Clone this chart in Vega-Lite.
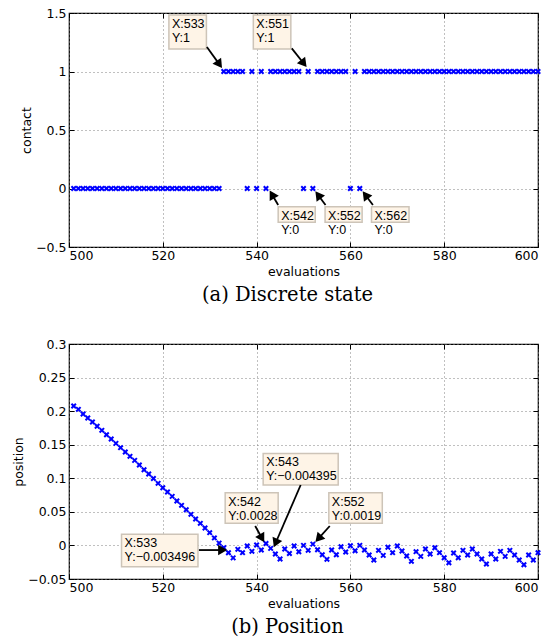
{
  "$schema": "https://vega.github.io/schema/vega-lite/v6.json",
  "background": "white",
  "padding": {"left": 12, "top": 6, "right": 5, "bottom": 5},
  "spacing": 31,
  "config": {
    "view": {"stroke": "black", "strokeWidth": 1.2},
    "axis": {
      "labelFont": "DejaVu Sans", "labelFontSize": 12.5, "labelColor": "black",
      "titleFont": "DejaVu Sans", "titleFontSize": 12.5, "titleFontWeight": "normal", "titleColor": "black",
      "tickColor": "black", "tickSize": -5, "tickWidth": 1, "domain": false,
      "gridColor": "#808080", "gridDash": [1, 3], "gridOpacity": 1, "gridWidth": 1
    },
    "axisX": {"labelPadding": 7, "titlePadding": 4},
    "axisY": {"labelPadding": 8, "titlePadding": 2},
    "title": {"font": "DejaVu Serif", "fontSize": 19.5, "fontWeight": "normal", "color": "black"}
  },
  "datasets": {
    "contact": [
      {"e":501,"c":0},{"e":502,"c":0},{"e":503,"c":0},{"e":504,"c":0},{"e":505,"c":0},{"e":506,"c":0},{"e":507,"c":0},{"e":508,"c":0},{"e":509,"c":0},{"e":510,"c":0},
      {"e":511,"c":0},{"e":512,"c":0},{"e":513,"c":0},{"e":514,"c":0},{"e":515,"c":0},{"e":516,"c":0},{"e":517,"c":0},{"e":518,"c":0},{"e":519,"c":0},{"e":520,"c":0},
      {"e":521,"c":0},{"e":522,"c":0},{"e":523,"c":0},{"e":524,"c":0},{"e":525,"c":0},{"e":526,"c":0},{"e":527,"c":0},{"e":528,"c":0},{"e":529,"c":0},{"e":530,"c":0},
      {"e":531,"c":0},{"e":532,"c":0},{"e":533,"c":1},{"e":534,"c":1},{"e":535,"c":1},{"e":536,"c":1},{"e":537,"c":1},{"e":538,"c":0},{"e":539,"c":1},{"e":540,"c":0},
      {"e":541,"c":1},{"e":542,"c":0},{"e":543,"c":1},{"e":544,"c":1},{"e":545,"c":1},{"e":546,"c":1},{"e":547,"c":1},{"e":548,"c":1},{"e":549,"c":1},{"e":550,"c":0},
      {"e":551,"c":1},{"e":552,"c":0},{"e":553,"c":1},{"e":554,"c":1},{"e":555,"c":1},{"e":556,"c":1},{"e":557,"c":1},{"e":558,"c":1},{"e":559,"c":1},{"e":560,"c":0},
      {"e":561,"c":1},{"e":562,"c":0},{"e":563,"c":1},{"e":564,"c":1},{"e":565,"c":1},{"e":566,"c":1},{"e":567,"c":1},{"e":568,"c":1},{"e":569,"c":1},{"e":570,"c":1},
      {"e":571,"c":1},{"e":572,"c":1},{"e":573,"c":1},{"e":574,"c":1},{"e":575,"c":1},{"e":576,"c":1},{"e":577,"c":1},{"e":578,"c":1},{"e":579,"c":1},{"e":580,"c":1},
      {"e":581,"c":1},{"e":582,"c":1},{"e":583,"c":1},{"e":584,"c":1},{"e":585,"c":1},{"e":586,"c":1},{"e":587,"c":1},{"e":588,"c":1},{"e":589,"c":1},{"e":590,"c":1},
      {"e":591,"c":1},{"e":592,"c":1},{"e":593,"c":1},{"e":594,"c":1},{"e":595,"c":1},{"e":596,"c":1},{"e":597,"c":1},{"e":598,"c":1},{"e":599,"c":1},{"e":600,"c":1}
    ],
    "position": [
      {"e":501,"p":0.2076},{"e":502,"p":0.2027},{"e":503,"p":0.1957},{"e":504,"p":0.1898},{"e":505,"p":0.1838},{"e":506,"p":0.1774},{"e":507,"p":0.1714},{"e":508,"p":0.1649},{"e":509,"p":0.1585},{"e":510,"p":0.1520},
      {"e":511,"p":0.1456},{"e":512,"p":0.1391},{"e":513,"p":0.1327},{"e":514,"p":0.1267},{"e":515,"p":0.1197},{"e":516,"p":0.1128},{"e":517,"p":0.1063},{"e":518,"p":0.0997},{"e":519,"p":0.0925},{"e":520,"p":0.0860},
      {"e":521,"p":0.0795},{"e":522,"p":0.0731},{"e":523,"p":0.0661},{"e":524,"p":0.0597},{"e":525,"p":0.0532},{"e":526,"p":0.0463},{"e":527,"p":0.0393},{"e":528,"p":0.0329},{"e":529,"p":0.0259},{"e":530,"p":0.0190},
      {"e":531,"p":0.0112},{"e":532,"p":0.0035},{"e":533,"p":-0.0035},{"e":534,"p":-0.0110},{"e":535,"p":-0.0185},{"e":536,"p":-0.0058},{"e":537,"p":-0.0108},{"e":538,"p":-0.0009},{"e":539,"p":-0.0088},{"e":540,"p":0.0006},
      {"e":541,"p":-0.0069},{"e":542,"p":0.0028},{"e":543,"p":-0.0044},{"e":544,"p":-0.0128},{"e":545,"p":-0.0202},{"e":546,"p":-0.0054},{"e":547,"p":-0.0120},{"e":548,"p":-0.0009},{"e":549,"p":-0.0094},{"e":550,"p":0.0001},
      {"e":551,"p":-0.0073},{"e":552,"p":0.0019},{"e":553,"p":-0.0064},{"e":554,"p":-0.0138},{"e":555,"p":-0.0207},{"e":556,"p":-0.0069},{"e":557,"p":-0.0138},{"e":558,"p":-0.0019},{"e":559,"p":-0.0098},{"e":560,"p":-0.0004},
      {"e":561,"p":-0.0079},{"e":562,"p":0.0001},{"e":563,"p":-0.0069},{"e":564,"p":-0.0143},{"e":565,"p":-0.0217},{"e":566,"p":-0.0073},{"e":567,"p":-0.0148},{"e":568,"p":-0.0028},{"e":569,"p":-0.0108},{"e":570,"p":-0.0009},
      {"e":571,"p":-0.0083},{"e":572,"p":-0.0158},{"e":573,"p":-0.0237},{"e":574,"p":-0.0093},{"e":575,"p":-0.0163},{"e":576,"p":-0.0054},{"e":577,"p":-0.0128},{"e":578,"p":-0.0034},{"e":579,"p":-0.0108},{"e":580,"p":-0.0183},
      {"e":581,"p":-0.0257},{"e":582,"p":-0.0113},{"e":583,"p":-0.0183},{"e":584,"p":-0.0073},{"e":585,"p":-0.0143},{"e":586,"p":-0.0054},{"e":587,"p":-0.0128},{"e":588,"p":-0.0202},{"e":589,"p":-0.0277},{"e":590,"p":-0.0128},
      {"e":591,"p":-0.0202},{"e":592,"p":-0.0088},{"e":593,"p":-0.0163},{"e":594,"p":-0.0073},{"e":595,"p":-0.0143},{"e":596,"p":-0.0217},{"e":597,"p":-0.0287},{"e":598,"p":-0.0143},{"e":599,"p":-0.0217},{"e":600,"p":-0.0108}
    ],
    "tipsA": [
      {"label":"X:533\nY:1","x1":521.3,"x2":529.3,"y1":1.483,"y2":1.192},
      {"label":"X:551\nY:1","x1":539.3,"x2":547.3,"y1":1.483,"y2":1.192},
      {"label":"X:542\nY:0","x1":544.6,"x2":552.5,"y1":-0.156,"y2":-0.289},
      {"label":"X:552\nY:0","x1":554.6,"x2":562.5,"y1":-0.156,"y2":-0.289},
      {"label":"X:562\nY:0","x1":564.5,"x2":572.5,"y1":-0.156,"y2":-0.289}
    ],
    "arrowsA": [
      {"tx":529.4,"ty":1.209,"hx":532.07,"hy":1.061,"angle":145},
      {"tx":547.5,"ty":1.198,"hx":550.06,"hy":1.068,"angle":142},
      {"tx":544.6,"ty":-0.141,"hx":543.28,"hy":-0.051,"angle":330},
      {"tx":554.7,"ty":-0.141,"hx":553.11,"hy":-0.055,"angle":323},
      {"tx":564.8,"ty":-0.141,"hx":563.2,"hy":-0.055,"angle":323}
    ],
    "tipsB": [
      {"label":"X:533\nY:−0.003496","x1":511.2,"x2":527.5,"y1":0.0165,"y2":-0.0317},
      {"label":"X:542\nY:0.0028","x1":533.3,"x2":544.6,"y1":0.0785,"y2":0.0329},
      {"label":"X:543\nY:−0.004395","x1":541.4,"x2":557.4,"y1":0.137,"y2":0.090},
      {"label":"X:552\nY:0.0019","x1":555.4,"x2":566.8,"y1":0.0785,"y2":0.0329}
    ],
    "arrowsB": [
      {"tx":527.7,"ty":-0.0069,"hx":532.77,"hy":-0.0069,"angle":90},
      {"tx":539.7,"ty":0.0289,"hx":541.15,"hy":0.0107,"angle":150},
      {"tx":549.4,"ty":0.090,"hx":544.05,"hy":0.0036,"angle":203},
      {"tx":555.6,"ty":0.0289,"hx":553.18,"hy":0.0100,"angle":222}
    ]
  },
  "vconcat": [
    {
      "width": 469, "height": 234,
      "title": {"text": "(a)  Discrete state", "orient": "bottom", "anchor": "middle", "offset": 8, "dx": -16},
      "resolve": {"axis": {"x": "independent", "y": "independent"}},
      "layer": [
        {
          "data": {"name": "contact"},
          "mark": {"type": "point", "shape": "M-1,-1L1,1M-1,1L1,-1", "filled": false, "color": "#0000ff", "strokeWidth": 2, "size": 20, "opacity": 1},
          "encoding": {
            "x": {"field": "e", "type": "quantitative", "scale": {"domain": [500, 600], "nice": false, "zero": false},
                  "axis": {"orient": "bottom", "values": [500, 520, 540, 560, 580, 600], "format": "d", "title": "evaluations", "grid": true}},
            "y": {"field": "c", "type": "quantitative", "scale": {"domain": [-0.5, 1.5], "nice": false, "zero": false},
                  "axis": {"orient": "left", "values": [-0.5, 0, 0.5, 1, 1.5], "format": "~g", "title": "contact", "grid": true}}
          }
        },
        {
          "data": {"name": "contact"},
          "mark": {"type": "point", "opacity": 0},
          "encoding": {
            "x": {"field": "e", "type": "quantitative", "scale": {"domain": [500, 600], "nice": false, "zero": false},
                  "axis": {"orient": "top", "values": [500, 520, 540, 560, 580, 600], "labels": false, "title": null, "grid": false}},
            "y": {"field": "c", "type": "quantitative", "scale": {"domain": [-0.5, 1.5], "nice": false, "zero": false},
                  "axis": {"orient": "right", "values": [-0.5, 0, 0.5, 1, 1.5], "labels": false, "title": null, "grid": false}}
          }
        },
        {
          "data": {"name": "tipsA"},
          "mark": {"type": "rect", "fill": "#fef4e7", "stroke": "#cdc4b8", "strokeWidth": 1.5},
          "encoding": {
            "x": {"field": "x1", "type": "quantitative", "axis": null}, "x2": {"field": "x2"},
            "y": {"field": "y1", "type": "quantitative", "axis": null}, "y2": {"field": "y2"}
          }
        },
        {
          "data": {"name": "tipsA"},
          "mark": {"type": "text", "align": "left", "baseline": "top", "dx": 3, "dy": 3, "font": "Liberation Sans", "fontSize": 12.5, "lineBreak": "\n", "lineHeight": 14, "color": "black"},
          "encoding": {
            "x": {"field": "x1", "type": "quantitative", "axis": null},
            "y": {"field": "y1", "type": "quantitative", "axis": null},
            "text": {"field": "label"}
          }
        },
        {
          "data": {"name": "arrowsA"},
          "mark": {"type": "rule", "color": "black", "strokeWidth": 1.8},
          "encoding": {
            "x": {"field": "tx", "type": "quantitative", "axis": null}, "x2": {"field": "hx"},
            "y": {"field": "ty", "type": "quantitative", "axis": null}, "y2": {"field": "hy"}
          }
        },
        {
          "data": {"name": "arrowsA"},
          "mark": {"type": "point", "shape": "triangle-up", "filled": true, "color": "black", "size": 110, "opacity": 1},
          "encoding": {
            "x": {"field": "hx", "type": "quantitative", "axis": null},
            "y": {"field": "hy", "type": "quantitative", "axis": null},
            "angle": {"field": "angle", "type": "quantitative", "scale": null}
          }
        }
      ]
    },
    {
      "width": 469, "height": 235,
      "title": {"text": "(b)  Position", "orient": "bottom", "anchor": "middle", "offset": 8, "dx": -16},
      "resolve": {"axis": {"x": "independent", "y": "independent"}},
      "layer": [
        {
          "data": {"name": "position"},
          "mark": {"type": "point", "shape": "M-1,-1L1,1M-1,1L1,-1", "filled": false, "color": "#0000ff", "strokeWidth": 2, "size": 20, "opacity": 1},
          "encoding": {
            "x": {"field": "e", "type": "quantitative", "scale": {"domain": [500, 600], "nice": false, "zero": false},
                  "axis": {"orient": "bottom", "values": [500, 520, 540, 560, 580, 600], "format": "d", "title": "evaluations", "grid": true}},
            "y": {"field": "p", "type": "quantitative", "scale": {"domain": [-0.05, 0.3], "nice": false, "zero": false},
                  "axis": {"orient": "left", "values": [-0.05, 0, 0.05, 0.1, 0.15, 0.2, 0.25, 0.3], "format": "~g", "title": "position", "grid": true}}
          }
        },
        {
          "data": {"name": "position"},
          "mark": {"type": "point", "opacity": 0},
          "encoding": {
            "x": {"field": "e", "type": "quantitative", "scale": {"domain": [500, 600], "nice": false, "zero": false},
                  "axis": {"orient": "top", "values": [500, 520, 540, 560, 580, 600], "labels": false, "title": null, "grid": false}},
            "y": {"field": "p", "type": "quantitative", "scale": {"domain": [-0.05, 0.3], "nice": false, "zero": false},
                  "axis": {"orient": "right", "values": [-0.05, 0, 0.05, 0.1, 0.15, 0.2, 0.25, 0.3], "labels": false, "title": null, "grid": false}}
          }
        },
        {
          "data": {"name": "tipsB"},
          "mark": {"type": "rect", "fill": "#fef4e7", "stroke": "#cdc4b8", "strokeWidth": 1.5},
          "encoding": {
            "x": {"field": "x1", "type": "quantitative", "axis": null}, "x2": {"field": "x2"},
            "y": {"field": "y1", "type": "quantitative", "axis": null}, "y2": {"field": "y2"}
          }
        },
        {
          "data": {"name": "tipsB"},
          "mark": {"type": "text", "align": "left", "baseline": "top", "dx": 3, "dy": 3, "font": "Liberation Sans", "fontSize": 12.5, "lineBreak": "\n", "lineHeight": 14, "color": "black"},
          "encoding": {
            "x": {"field": "x1", "type": "quantitative", "axis": null},
            "y": {"field": "y1", "type": "quantitative", "axis": null},
            "text": {"field": "label"}
          }
        },
        {
          "data": {"name": "arrowsB"},
          "mark": {"type": "rule", "color": "black", "strokeWidth": 1.8},
          "encoding": {
            "x": {"field": "tx", "type": "quantitative", "axis": null}, "x2": {"field": "hx"},
            "y": {"field": "ty", "type": "quantitative", "axis": null}, "y2": {"field": "hy"}
          }
        },
        {
          "data": {"name": "arrowsB"},
          "mark": {"type": "point", "shape": "triangle-up", "filled": true, "color": "black", "size": 110, "opacity": 1},
          "encoding": {
            "x": {"field": "hx", "type": "quantitative", "axis": null},
            "y": {"field": "hy", "type": "quantitative", "axis": null},
            "angle": {"field": "angle", "type": "quantitative", "scale": null}
          }
        }
      ]
    }
  ]
}
